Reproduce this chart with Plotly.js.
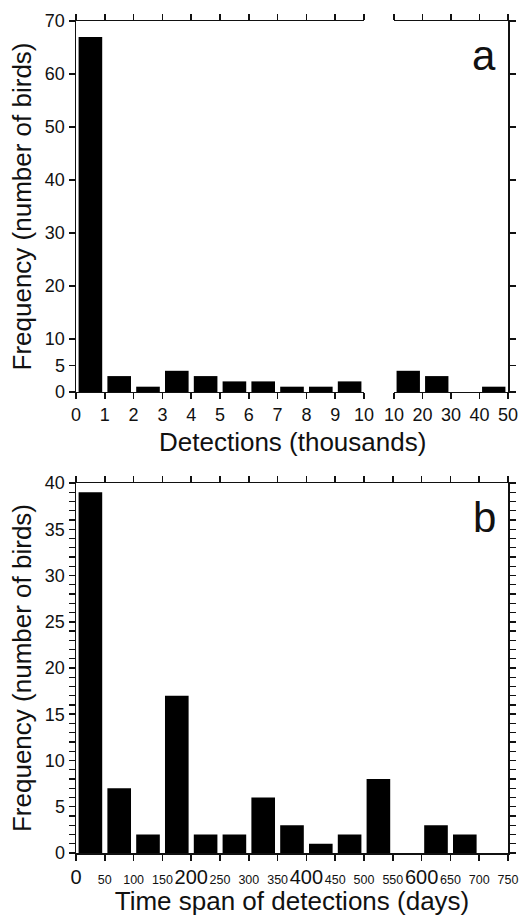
<!DOCTYPE html>
<html>
<head>
<meta charset="utf-8">
<script src="https://cdn.plot.ly/plotly-3.0.1.min.js"></script>
<style>html,body{margin:0;padding:0;background:#fff;}</style>
</head>
<body>
<div id="chart" style="width:519px;height:916px;"></div>
<script>
// ---- Data ----
// Panel a: detections (thousands), 1-thousand bins from 0 to 10
const detBinStartsA = [0, 1, 2, 3, 4, 5, 6, 7, 8, 9];
const detCountsA    = [67, 3, 1, 4, 3, 2, 2, 1, 1, 2];
// Panel a: detections (thousands), 10-thousand bins from 10 to 50
const detBinStartsB = [10, 20, 30, 40];
const detCountsB    = [4, 3, 0, 1];
// Panel b: time span of detections (days), 50-day bins
const spanBinStarts = [0, 50, 100, 150, 200, 250, 300, 350, 400, 450, 500, 550, 600, 650, 700];
const spanCounts    = [39, 7, 2, 17, 2, 2, 6, 3, 1, 2, 8, 0, 3, 2, 0];

// Tick labels
const tickValsA1 = [0,1,2,3,4,5,6,7,8,9,10];
const tickValsA2 = [10,20,30,40,50];
const yTickValsA = [0,5,10,20,30,40,50,60,70];
const tickValsB  = [0,50,100,150,200,250,300,350,400,450,500,550,600,650,700,750];
const tickLabelsB = ['0','50','100','150','200','250','300','350','400','450','500','550','600','650','700','750'];
const bigTickLabelsB = ['0','200','400','600'];

const FONT = 'Liberation Sans, Arial, Helvetica, sans-serif';
const INK = '#111';

function centers(starts, w) { return starts.map(s => s + w / 2); }
const tickTextB = tickLabelsB.map(t => bigTickLabelsB.includes(t)
  ? '<span style="font-size:20px">' + t + '</span>' : t);

const barStyle = {color: '#000', line: {color: '#000', width: 0}};

const traces = [
  {type: 'bar', x: centers(detBinStartsA, 1), y: detCountsA, width: 0.82,
   xaxis: 'x', yaxis: 'y', marker: barStyle, hoverinfo: 'x+y'},
  {type: 'bar', x: centers(detBinStartsB, 10), y: detCountsB, width: 8.2,
   xaxis: 'x2', yaxis: 'y2', marker: barStyle, hoverinfo: 'x+y'},
  {type: 'bar', x: centers(spanBinStarts, 50), y: spanCounts, width: 41,
   xaxis: 'x3', yaxis: 'y3', marker: barStyle, hoverinfo: 'x+y'}
];

const axBase = {
  showline: true, linecolor: INK, linewidth: 1.5,
  ticks: 'outside', ticklen: 6, tickwidth: 1.5, tickcolor: INK,
  showgrid: false, zeroline: false, fixedrange: true, tickangle: 0,
  tickfont: {family: FONT, size: 18, color: INK}
};

const domA = [0.5541, 1];
const domB = [0, 0.4447];
const titleFont = {family: FONT, size: 26, color: INK};

const layout = {
  width: 519, height: 916,
  margin: {l: 76, r: 11, t: 21, b: 63, pad: 0},
  paper_bgcolor: '#fff', plot_bgcolor: '#fff',
  showlegend: false,
  font: {family: FONT, color: INK},
  xaxis: Object.assign({}, axBase, {
    domain: [0, 0.6667], range: [0, 10], anchor: 'y',
    tickmode: 'array', tickvals: tickValsA1, mirror: 'ticks'
  }),
  xaxis2: Object.assign({}, axBase, {
    domain: [0.7361, 1], range: [10, 50], anchor: 'y2',
    tickmode: 'array', tickvals: tickValsA2, mirror: 'ticks'
  }),
  yaxis: Object.assign({}, axBase, {
    domain: domA, range: [0, 70], anchor: 'x',
    tickmode: 'array', tickvals: yTickValsA,
    title: {text: 'Frequency (number of birds)', font: titleFont, standoff: 6}
  }),
  yaxis2: Object.assign({}, axBase, {
    domain: domA, range: [0, 70], anchor: 'x2', side: 'right',
    tickmode: 'array', tickvals: yTickValsA, showticklabels: false
  }),
  xaxis3: Object.assign({}, axBase, {
    domain: [0, 1], range: [0, 750], anchor: 'y3',
    tickmode: 'array', tickvals: tickValsB, ticktext: tickTextB, mirror: 'ticks',
    ticklabelstandoff: 8,
    tickfont: {family: FONT, size: 12.5, color: INK},
    title: {text: 'Time span of detections (days)', font: titleFont, standoff: 1}
  }),
  yaxis3: Object.assign({}, axBase, {
    domain: domB, range: [0, 40], anchor: 'x3',
    tickmode: 'linear', tick0: 0, dtick: 5, mirror: 'ticks',
    minor: {dtick: 1, ticks: 'outside', ticklen: 6, tickwidth: 1.2, tickcolor: INK, showgrid: false},
    title: {text: 'Frequency (number of birds)', font: titleFont, standoff: 6}
  }),
  annotations: [
    {text: 'Detections (thousands)', xref: 'paper', yref: 'paper', x: 0.5, y: 0.494,
     xanchor: 'center', yanchor: 'middle', showarrow: false, font: titleFont},
    {text: 'a', xref: 'paper', yref: 'paper', x: 0.977, y: 0.958,
     xanchor: 'right', yanchor: 'middle', showarrow: false,
     font: {family: FONT, size: 42, color: INK}},
    {text: 'b', xref: 'paper', yref: 'paper', x: 0.977, y: 0.4038,
     xanchor: 'right', yanchor: 'middle', showarrow: false,
     font: {family: FONT, size: 42, color: INK}}
  ]
};

Plotly.newPlot('chart', traces, layout, {displayModeBar: false, staticPlot: true});
</script>
</body>
</html>
